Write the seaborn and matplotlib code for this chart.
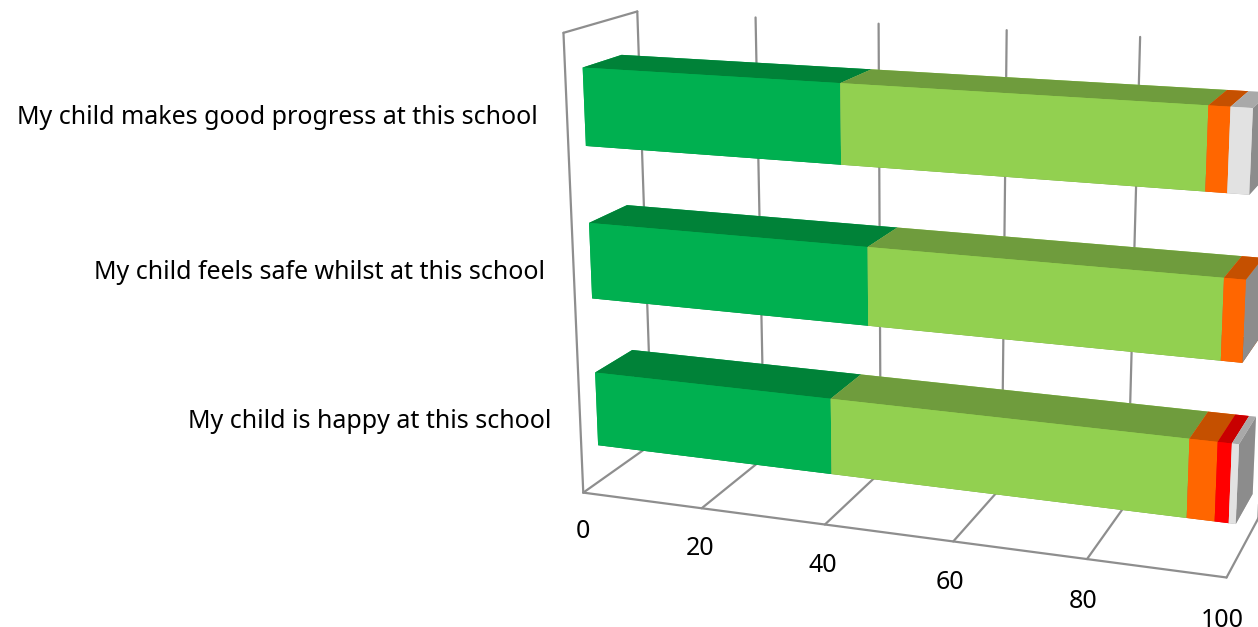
import matplotlib
matplotlib.use("Agg")
import matplotlib.pyplot as plt
import seaborn as sns

# bottom row first, z position = index
categories = ["My child is happy at this school",
              "My child feels safe whilst at this school",
              "My child makes good progress at this school"]
strongly_agree = [39, 45, 41]
agree = [54, 52, 53]
disagree = [4, 3, 3]
strongly_disagree = [2, 0, 0]
dont_know = [1, 0, 3]
x_ticks = [0, 20, 40, 60, 80, 100]

sns.set_theme(style="white")
plt.rcParams['font.family'] = ['Noto Sans', 'DejaVu Sans']

front_colors = sns.color_palette(["#00B050", "#92D050", "#FF6600", "#FF0000", "#E2E2E2"])
top_colors = sns.color_palette(["#008238", "#6F9C3D", "#C55000", "#C80000", "#A9A9A9"])
side_color = "#8C8C8C"
grid_color = "#8E8E8E"
series = [strongly_agree, agree, disagree, strongly_disagree, dont_know]

W, H = 1258, 627
fig = plt.figure(figsize=(W / 100, H / 100), dpi=100)
ax = fig.add_subplot(projection='3d', computed_zorder=False)
ax.set_xlim(0, 100, view_margin=0)
ax.set_ylim(0, 1, view_margin=0)
ax.set_zlim(0, 3, view_margin=0)
ax.view_init(15.0, -70.6, 0.016)
ax.set_proj_type('persp', focal_length=0.4795)
ax.set_box_aspect((1, 0.238, 0.7107))
ax.set_axis_off()
ax.set_position([492.0 / W, -74.9 / H, 824.4 / W, 824.4 / H])

bar_front, bar_back = 0.226, 0.7566
label_z = [0.374, 1.393, 2.413]

# walls and floor
ax.plot([0, 100], [0, 0], [0, 0], color=grid_color, lw=1.6, zorder=1)
ax.plot([0, 0], [0, 0], [0, 3], color=grid_color, lw=1.6, zorder=1)
ax.plot([0, 0], [0, 1], [3, 3], color=grid_color, lw=1.6, zorder=1)
for t in x_ticks:
    ax.plot([t, t], [0, 1], [0, 0], color=grid_color, lw=1.6, zorder=1)
    ax.plot([t, t], [1, 1], [0, 3], color=grid_color, lw=1.6, zorder=1)
    ax.text(t - 0.4, 0, -0.275, str(t), fontsize=18, color="black", ha='center', va='center')

# stacked bars, left to right so each one covers the end of the last
order = 2
for i, cat in enumerate(categories):
    left = 0
    for s, vals in enumerate(series):
        v = vals[i]
        if v == 0:
            continue
        faces = [top_colors[s], top_colors[s], front_colors[s], front_colors[s], front_colors[s], side_color]
        boxes = ax.bar3d(left, bar_front, i + 0.25, v, bar_back - bar_front, 0.5,
                         color=faces, shade=False, linewidth=0)
        boxes.set_zorder(order)
        order += 1
        left += v
    ax.text(-8, bar_front, label_z[i], cat, fontsize=18, color="black", ha='right', va='center')

fig.savefig("out.png", dpi=100)
